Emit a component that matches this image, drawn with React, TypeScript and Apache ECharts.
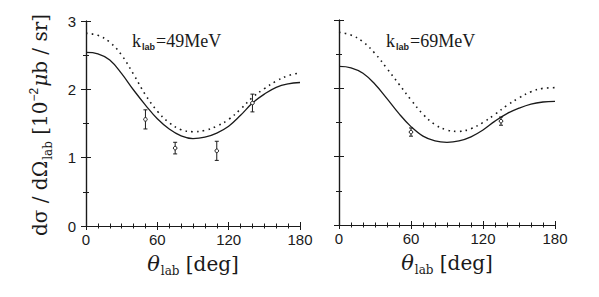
import React, { useEffect, useRef } from "react";
import * as echarts from "echarts";

const ANGLES = [0, 10, 20, 30, 40, 50, 60, 70, 80, 90, 100, 110, 120, 130, 140, 150, 160, 170, 180];

const LEFT_SOLID = [2.54, 2.52, 2.43, 2.23, 1.99, 1.77, 1.57, 1.42, 1.32, 1.28, 1.30, 1.36, 1.46, 1.62, 1.80, 1.93, 2.03, 2.08, 2.10];
const LEFT_DASHED = [2.82, 2.79, 2.69, 2.50, 2.22, 1.92, 1.68, 1.51, 1.41, 1.38, 1.40, 1.46, 1.56, 1.71, 1.88, 2.01, 2.12, 2.20, 2.24];
const LEFT_POINTS = [
  [50, 1.56, 0.14],
  [75, 1.14, 0.085],
  [110, 1.1, 0.14],
  [140, 1.8, 0.13],
];

const RIGHT_SOLID = [2.32, 2.30, 2.22, 2.06, 1.85, 1.63, 1.44, 1.30, 1.23, 1.21, 1.23, 1.29, 1.39, 1.52, 1.63, 1.71, 1.77, 1.80, 1.81];
const RIGHT_DASHED = [2.82, 2.78, 2.68, 2.51, 2.29, 2.06, 1.83, 1.62, 1.47, 1.39, 1.37, 1.41, 1.50, 1.62, 1.75, 1.86, 1.95, 2.00, 2.01];
const RIGHT_POINTS = [
  [60, 1.36, 0.06],
  [135, 1.52, 0.06],
];

const X_TICKS = [0, 60, 120, 180];
const Y_TICKS = [0, 1, 2, 3];
const LABELS = ["49MeV", "69MeV"];

const INK = "#1a1a1a";
const SERIF = "'Liberation Serif', 'DejaVu Serif', serif";
const WIDE = "'DejaVu Serif', 'Liberation Serif', serif";
const SANS = "'Liberation Sans', Arial, sans-serif";

function pairs(ys: number[]) {
  return ANGLES.map((a, i) => [a, ys[i]]);
}

export default function App() {
  const ref = useRef<HTMLDivElement>(null);
  useEffect(() => {
    if (!ref.current) return;
    const chart = echarts.init(ref.current, null, { renderer: "svg" });

    const grids = [
      { left: 86, top: 21, width: 214, height: 205 },
      { left: 339, top: 20, width: 216, height: 205 },
    ];

    const xAxisName = {
      rich: {
        t: { fontFamily: WIDE, fontStyle: "italic", fontSize: 21, color: INK },
        s: { fontFamily: WIDE, fontSize: 12, color: INK, verticalAlign: "bottom", padding: [15, 3, 0, 1] },
        m: { fontFamily: WIDE, fontSize: 20, color: INK },
      },
    };

    const xAxes: any[] = [];
    const yAxes: any[] = [];
    [0, 1].forEach((g) => {
      xAxes.push({
        type: "value",
        gridIndex: g,
        min: 0,
        max: 180,
        interval: 60,
        name: "{t|θ}{s|lab} {m|[deg]}",
        nameLocation: "middle",
        nameGap: 24,
        nameTextStyle: xAxisName,
        axisLine: { lineStyle: { color: INK, width: 1.2 } },
        axisTick: { inside: true, length: 4, lineStyle: { color: INK } },
        minorTick: { show: true, splitNumber: 6, length: 2.5, lineStyle: { color: INK } },
        axisLabel: {
          fontFamily: SANS,
          fontSize: 15,
          color: INK,
          margin: 6,
          formatter: (v: number) => (X_TICKS.includes(v) ? String(v) : ""),
        },
        splitLine: { show: false },
      });
      xAxes.push({
        type: "value",
        gridIndex: g,
        position: "top",
        min: 0,
        max: 180,
        interval: 60,
        axisLine: { lineStyle: { color: INK, width: 1.2 } },
        axisTick: { inside: true, length: 4, lineStyle: { color: INK } },
        minorTick: { show: true, splitNumber: 6, length: 2.5, lineStyle: { color: INK } },
        axisLabel: { show: false },
        splitLine: { show: false },
      });
      yAxes.push({
        type: "value",
        gridIndex: g,
        min: 0,
        max: 3,
        interval: 1,
        axisLine: { lineStyle: { color: INK, width: 1.2 } },
        axisTick: { inside: true, length: 5, lineStyle: { color: INK } },
        minorTick: { show: true, splitNumber: 2, length: 3, lineStyle: { color: INK } },
        axisLabel: {
          show: g === 0,
          fontFamily: SANS,
          fontSize: 15,
          color: INK,
          margin: 10,
          formatter: (v: number) => (Y_TICKS.includes(v) ? String(v) : ""),
        },
        splitLine: { show: false },
      });
      yAxes.push({
        type: "value",
        gridIndex: g,
        position: "right",
        min: 0,
        max: 3,
        interval: 1,
        axisLine: { lineStyle: { color: INK, width: 1.2 } },
        axisTick: { inside: true, length: 5, lineStyle: { color: INK } },
        minorTick: { show: true, splitNumber: 2, length: 3, lineStyle: { color: INK } },
        axisLabel: { show: false },
        splitLine: { show: false },
      });
    });

    const errRender = (params: any, api: any) => {
      const x = api.value(0);
      const y = api.value(1);
      const e = api.value(2);
      const p = api.coord([x, y]);
      const t = api.coord([x, y + e]);
      const b = api.coord([x, y - e]);
      const st = { stroke: INK, lineWidth: 1 };
      return {
        type: "group",
        children: [
          { type: "line", shape: { x1: p[0], y1: t[1], x2: p[0], y2: b[1] }, style: st },
          { type: "line", shape: { x1: p[0] - 2, y1: t[1], x2: p[0] + 2, y2: t[1] }, style: st },
          { type: "line", shape: { x1: p[0] - 2, y1: b[1], x2: p[0] + 2, y2: b[1] }, style: st },
          { type: "circle", shape: { cx: p[0], cy: p[1], r: 1.8 }, style: { fill: "#fff", stroke: INK, lineWidth: 1 } },
        ],
      };
    };

    const lineSeries = (g: number, ys: number[], dashed: boolean) => ({
      type: "line",
      xAxisIndex: g * 2,
      yAxisIndex: g * 2,
      data: pairs(ys),
      smooth: 0.4,
      showSymbol: false,
      symbol: "none",
      lineStyle: dashed
        ? { color: INK, width: 1.6, type: [1.6, 4.2] }
        : { color: INK, width: 1.3 },
    });

    const annot = (x: number, y: number, txt: string) => ({
      type: "text",
      left: x,
      top: y,
      style: {
        text: "{k|k}{s|lab}{m|=" + txt + "}",
        rich: {
          k: { fontFamily: SERIF, fontSize: 18, fill: INK },
          s: { fontFamily: SANS, fontWeight: "bold", fontSize: 9, fill: INK, padding: [12, 1, 0, 1] },
          m: { fontFamily: SERIF, fontSize: 18, fill: INK },
        },
      },
    });

    chart.setOption({
      animation: false,
      backgroundColor: "#fff",
      grid: grids,
      xAxis: xAxes,
      yAxis: yAxes,
      series: [
        lineSeries(0, LEFT_SOLID, false),
        lineSeries(0, LEFT_DASHED, true),
        { type: "custom", xAxisIndex: 0, yAxisIndex: 0, data: LEFT_POINTS, renderItem: errRender, z: 5 },
        lineSeries(1, RIGHT_SOLID, false),
        lineSeries(1, RIGHT_DASHED, true),
        { type: "custom", xAxisIndex: 2, yAxisIndex: 2, data: RIGHT_POINTS, renderItem: errRender, z: 5 },
      ],
      graphic: [
        annot(132, 32, LABELS[0]),
        annot(386, 32, LABELS[1]),
        {
          type: "text",
          x: 40,
          y: 125,
          rotation: Math.PI / 2,
          style: {
            text: "{m|dσ / dΩ}{s|lab}{m| [10}{p|−2}{g|μ}{m|b / sr]}",
            align: "center",
            verticalAlign: "middle",
            rich: {
              m: { fontFamily: WIDE, fontSize: 20, fill: INK },
              g: { fontFamily: WIDE, fontStyle: "italic", fontSize: 20, fill: INK },
              s: { fontFamily: WIDE, fontSize: 12, fill: INK, padding: [15, 0, 0, 1] },
              p: { fontFamily: SANS, fontSize: 12, fill: INK, padding: [0, 1, 13, 0] },
            },
          },
        },
      ],
    });
    return () => chart.dispose();
  }, []);
  return <div ref={ref} style={{ position: "fixed", left: 0, top: 0, width: 599, height: 297 }} />;
}
